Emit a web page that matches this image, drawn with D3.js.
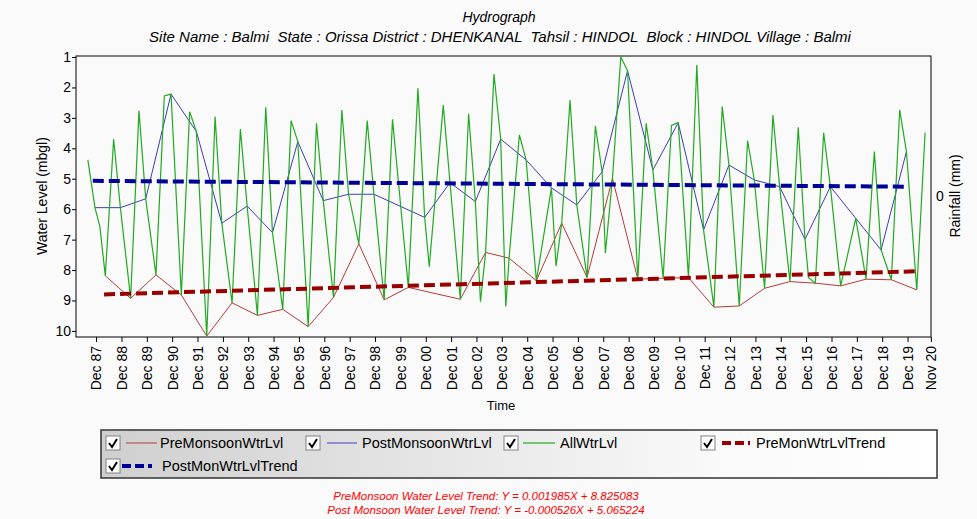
<!DOCTYPE html>
<html>
<head>
<meta charset="utf-8">
<script src="https://cdn.jsdelivr.net/npm/d3@7/dist/d3.min.js"></script>
<style>
body { margin: 0; background: #fafafa; }
text { font-family: "Liberation Sans", Arial, sans-serif; fill: #000; }
</style>
</head>
<body>
<svg id="chart" width="977" height="519"></svg>
<script>
// pre-monsoon readings (April)
var preDates = ['1988-04-12', '1989-04-12', '1990-04-12', '1991-04-12', '1992-04-12', '1993-04-12', '1994-04-12',
    '1995-04-12', '1996-04-12', '1997-04-12', '1998-04-12', '1999-04-12', '2000-03-25', '2002-04-12', '2003-04-12',
    '2004-03-15', '2005-04-12', '2006-04-12', '2007-04-12', '2008-04-12', '2009-04-12', '2010-04-12', '2011-04-12',
    '2012-04-12', '2013-04-12', '2014-04-12', '2015-04-12', '2016-04-12', '2017-04-12', '2018-04-12', '2019-04-12',
    '2020-04-12'];
var preValues = [8.19, 8.93, 8.16, 8.82, 10.17, 9.08, 9.49, 9.29, 9.86, 8.90, 7.14, 8.98, 8.57, 8.96, 7.42,
    7.61, 8.35, 6.46, 8.24, 4.99, 8.30, 8.27, 8.25, 9.22, 9.18, 8.60, 8.38, 8.43, 8.52, 8.30, 8.32, 8.65];

// post-monsoon readings (November)
var postDates = ['1987-11-15', '1988-11-15', '1989-11-15', '1990-11-15', '1991-11-15', '1992-11-15', '1993-11-15',
    '1994-11-15', '1995-11-15', '1996-11-15', '1997-11-15', '1998-11-15', '2000-11-15', '2001-11-15', '2002-11-15',
    '2003-11-15', '2004-11-15', '2005-11-15', '2006-11-15', '2007-11-15', '2008-11-15', '2009-11-15', '2010-11-15',
    '2011-11-15', '2012-11-15', '2013-11-15', '2014-11-15', '2015-11-15', '2016-11-15', '2017-11-15', '2018-11-15',
    '2019-11-15'];
var postValues = [5.95, 5.95, 5.66, 2.22, 3.45, 6.46, 5.90, 6.77, 3.78, 5.72, 5.51, 5.51, 6.27, 5.13, 5.75,
    3.70, 4.38, 5.30, 5.86, 4.77, 1.45, 4.71, 3.16, 6.68, 4.55, 5.04, 5.26, 6.99, 5.26, 6.30, 7.34, 4.11];

// monsoon (August) readings
var augDates = ['1987-08-05', '1988-08-10', '1989-08-10', '1990-08-10', '1991-08-10', '1992-08-10', '1993-08-10',
    '1994-08-10', '1995-08-10', '1996-08-10', '1997-08-10', '1998-08-10', '1999-08-10', '2000-08-10', '2001-08-10',
    '2002-08-10', '2003-08-10', '2004-08-10', '2006-08-10', '2007-08-10', '2008-08-10', '2009-08-10', '2010-08-10',
    '2011-08-10', '2012-08-10', '2013-08-10', '2014-08-10', '2015-08-10', '2016-08-10', '2018-08-10', '2019-08-10',
    '2020-08-10'];
var augValues = [4.38, 3.70, 2.77, 2.28, 2.80, 2.96, 3.37, 2.65, 3.09, 3.18, 2.74, 3.09, 3.05, 2.03, 2.58,
    2.87, 1.56, 3.56, 2.41, 3.27, 1.00, 3.18, 3.25, 1.26, 2.63, 3.75, 2.91, 3.31, 3.49, 4.11, 2.74, 3.49];

// January readings
var janDates = ['1988-01-25', '2001-01-20', '2003-01-28', '2004-01-28', '2006-01-20', '2008-01-01', '2016-01-05'];
var janValues = [6.57, 7.89, 9.04, 9.20, 7.87, 7.45, 8.25];

// trend lines (end points)
var preTrendDates = ['1988-03-25', '2020-05-01'];
var preTrendValues = [8.80, 8.04];
var postTrendDates = ['1987-10-15', '2019-11-15'];
var postTrendValues = [5.07, 5.26];

var xTickLabels = ['Dec 87', 'Dec 88', 'Dec 89', 'Dec 90', 'Dec 91', 'Dec 92', 'Dec 93', 'Dec 94', 'Dec 95',
    'Dec 96', 'Dec 97', 'Dec 98', 'Dec 99', 'Dec 00', 'Dec 01', 'Dec 02', 'Dec 03', 'Dec 04', 'Dec 05', 'Dec 06',
    'Dec 07', 'Dec 08', 'Dec 09', 'Dec 10', 'Dec 11', 'Dec 12', 'Dec 13', 'Dec 14', 'Dec 15', 'Dec 16', 'Dec 17',
    'Dec 18', 'Dec 19', 'Nov 20'];
var yTicks = [1, 2, 3, 4, 5, 6, 7, 8, 9, 10];

var legendLabels = ['PreMonsoonWtrLvl', 'PostMonsoonWtrLvl', 'AllWtrLvl', 'PreMonWtrLvlTrend', 'PostMonWtrLvlTrend'];

var parse = d3.timeParse('%Y-%m-%d');
var parseTick = d3.timeParse('%b %y');

function zip(dates, values) {
    return dates.map(function (d, i) {
        return { date: parse(d), value: values[i] };
    });
}

var preData = zip(preDates, preValues);
var postData = zip(postDates, postValues);
var allData = [].concat(preData, postData, zip(augDates, augValues), zip(janDates, janValues))
    .sort(function (a, b) { return a.date - b.date; });
var preTrend = zip(preTrendDates, preTrendValues);
var postTrend = zip(postTrendDates, postTrendValues);

var plotLeft = 76, plotRight = 931, plotTop = 56, plotBottom = 337;

var svg = d3.select('#chart');

var x = d3.scaleTime()
    .domain([parse('1987-02-15'), parse('2020-11-03')])
    .range([plotLeft, plotRight]);

var y = d3.scaleLinear()
    .domain([0.967, 10.2])
    .range([plotTop, plotBottom]);

// titles
svg.append('text')
    .attr('x', 499).attr('y', 22)
    .attr('text-anchor', 'middle')
    .style('font-size', '14px').style('font-style', 'italic')
    .text('Hydrograph');
svg.append('text')
    .attr('x', 500).attr('y', 42)
    .attr('text-anchor', 'middle')
    .attr('xml:space', 'preserve')
    .style('font-size', '15px').style('font-style', 'italic')
    .text('Site Name : Balmi  State : Orissa District : DHENKANAL  Tahsil : HINDOL  Block : HINDOL Village : Balmi');

// plot frame
svg.append('rect')
    .attr('x', plotLeft).attr('y', plotTop)
    .attr('width', plotRight - plotLeft).attr('height', plotBottom - plotTop)
    .attr('fill', '#fafafa');

svg.append('clipPath').attr('id', 'plotClip')
    .append('rect')
    .attr('x', plotLeft).attr('y', plotTop)
    .attr('width', plotRight - plotLeft).attr('height', plotBottom - plotTop);

// x axis
var xTicks = xTickLabels.map(function (t) { return parseTick(t); });
var xMinor = d3.timeMonth.range(x.domain()[0], x.domain()[1]).filter(function (d) {
    return d.getMonth() % 2 === 1;
});

var gx = svg.append('g')
    .attr('transform', 'translate(0,' + plotBottom + ')');
gx.call(d3.axisBottom(x).tickValues(xMinor).tickSize(3).tickFormat(''));
gx.call(d3.axisBottom(x).tickValues(xTicks).tickSize(5).tickFormat(d3.timeFormat('%b %y')));
gx.selectAll('.tick text')
    .attr('transform', 'rotate(-90)')
    .attr('text-anchor', 'end')
    .attr('x', -9)
    .attr('y', 0)
    .attr('dy', '0.35em')
    .style('font-size', '14px')
    .style('font-family', '"Liberation Sans", Arial, sans-serif');
gx.selectAll('.domain').remove();

// y axis
var yMinor = d3.range(1, 10.2, 0.2);
var gy = svg.append('g')
    .attr('transform', 'translate(' + plotLeft + ',0)');
gy.call(d3.axisLeft(y).tickValues(yMinor).tickSize(2).tickFormat(''));
gy.call(d3.axisLeft(y).tickValues(yTicks).tickSize(4).tickPadding(1));
gy.selectAll('.tick text')
    .style('font-size', '14px')
    .style('font-family', '"Liberation Sans", Arial, sans-serif');
gy.selectAll('.domain').remove();

svg.append('rect')
    .attr('x', plotLeft).attr('y', plotTop)
    .attr('width', plotRight - plotLeft).attr('height', plotBottom - plotTop)
    .attr('fill', 'none').attr('stroke', '#000').attr('stroke-width', 1);

// axis titles
svg.append('text')
    .attr('transform', 'translate(47,196) rotate(-90)')
    .attr('text-anchor', 'middle')
    .style('font-size', '14px')
    .text('Water Level (mbgl)');
svg.append('text')
    .attr('x', 501).attr('y', 410)
    .attr('text-anchor', 'middle')
    .style('font-size', '13px')
    .text('Time');
svg.append('text')
    .attr('x', 936).attr('y', 201)
    .style('font-size', '14px')
    .text('0');
svg.append('text')
    .attr('transform', 'translate(960,196) rotate(-90)')
    .attr('text-anchor', 'middle')
    .style('font-size', '14px')
    .text('Rainfall (mm)');

// series
var line = d3.line()
    .x(function (d) { return x(d.date); })
    .y(function (d) { return y(d.value); });

var plot = svg.append('g').attr('clip-path', 'url(#plotClip)');

plot.append('path').datum(preData)
    .attr('d', line).attr('fill', 'none')
    .attr('stroke', '#b83a3a').attr('stroke-width', 1);
plot.append('path').datum(postData)
    .attr('d', line).attr('fill', 'none')
    .attr('stroke', '#3c3cc0').attr('stroke-width', 1);
plot.append('path').datum(allData)
    .attr('d', line).attr('fill', 'none')
    .attr('stroke', '#22aa22').attr('stroke-width', 1.2);
plot.append('path').datum(preTrend)
    .attr('d', line).attr('fill', 'none')
    .attr('stroke', '#990000').attr('stroke-width', 4)
    .attr('stroke-dasharray', '11,5');
plot.append('path').datum(postTrend)
    .attr('d', line).attr('fill', 'none')
    .attr('stroke', '#000099').attr('stroke-width', 4)
    .attr('stroke-dasharray', '11,5');

// legend
var defs = svg.append('defs');
var grad = defs.append('linearGradient').attr('id', 'legendGrad')
    .attr('x1', '0%').attr('x2', '100%').attr('y1', '0%').attr('y2', '0%');
grad.append('stop').attr('offset', '0%').attr('stop-color', '#cfcfcf');
grad.append('stop').attr('offset', '75%').attr('stop-color', '#fafafa');
grad.append('stop').attr('offset', '100%').attr('stop-color', '#ffffff');

var legend = svg.append('g');
legend.append('rect')
    .attr('x', 101).attr('y', 430)
    .attr('width', 836).attr('height', 48)
    .attr('fill', 'url(#legendGrad)')
    .attr('stroke', '#333').attr('stroke-width', 1.5);

var legendItems = [
    { box: 106, y: 443, x1: 126, x2: 157, tx: 160, color: '#b83a3a', w: 1, dash: null },
    { box: 306, y: 443, x1: 327, x2: 357, tx: 362, color: '#3c3cc0', w: 1, dash: null },
    { box: 504, y: 443, x1: 523, x2: 555, tx: 560, color: '#22aa22', w: 1.2, dash: null },
    { box: 701, y: 443, x1: 722, x2: 750, tx: 756, color: '#990000', w: 4, dash: '9,4' },
    { box: 106, y: 466, x1: 122, x2: 152, tx: 162, color: '#000099', w: 4, dash: '9,4' }
];

legendItems.forEach(function (it, i) {
    var g = legend.append('g');
    g.append('rect')
        .attr('x', it.box).attr('y', it.y - 7)
        .attr('width', 14).attr('height', 14)
        .attr('fill', '#fff').attr('stroke', '#808080');
    g.append('path')
        .attr('d', 'M' + (it.box + 3) + ',' + (it.y) + ' L' + (it.box + 6) + ',' + (it.y + 4) + ' L' + (it.box + 11) + ',' + (it.y - 4))
        .attr('fill', 'none').attr('stroke', '#000').attr('stroke-width', 2);
    g.append('line')
        .attr('x1', it.x1).attr('x2', it.x2)
        .attr('y1', it.y).attr('y2', it.y)
        .attr('stroke', it.color).attr('stroke-width', it.w)
        .attr('stroke-dasharray', it.dash);
    g.append('text')
        .attr('x', it.tx).attr('y', it.y + 5)
        .style('font-size', '14.5px')
        .text(legendLabels[i]);
});

// trend equations
svg.append('text')
    .attr('x', 486).attr('y', 500)
    .attr('text-anchor', 'middle')
    .style('font-size', '11.5px').style('font-style', 'italic').style('fill', '#ff0000')
    .text('PreMonsoon Water Level Trend: Y = 0.001985X + 8.825083');
svg.append('text')
    .attr('x', 486).attr('y', 514)
    .attr('text-anchor', 'middle')
    .style('font-size', '11.5px').style('font-style', 'italic').style('fill', '#ff0000')
    .text('Post Monsoon Water Level Trend: Y = -0.000526X + 5.065224');
</script>
</body>
</html>
